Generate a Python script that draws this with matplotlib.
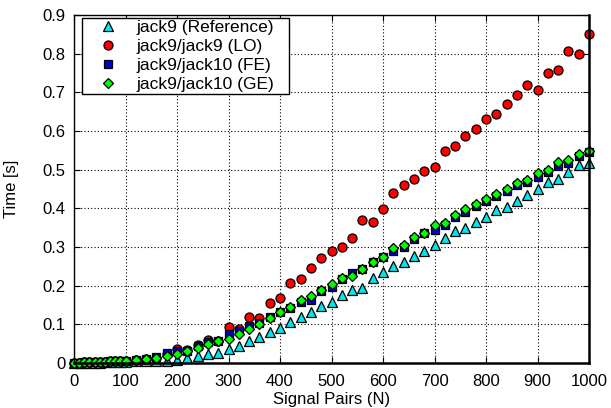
import matplotlib
matplotlib.use("Agg")
import matplotlib.pyplot as plt

plt.rcParams['font.family'] = ['Liberation Sans', 'DejaVu Sans']

signal_pairs = [0, 10, 20, 30, 40, 50, 60, 70, 80, 90, 100,
                120, 140, 160, 180, 200, 220, 240, 260, 280, 300,
                320, 340, 360, 380, 400, 420, 440, 460, 480, 500,
                520, 540, 560, 580, 600, 620, 640, 660, 680, 700,
                720, 740, 760, 780, 800, 820, 840, 860, 880, 900,
                920, 940, 960, 980, 1000]

time_reference = [0.000, 0.000, 0.001, 0.001, 0.001, 0.001, 0.002, 0.002, 0.002, 0.003, 0.003,
                  0.004, 0.004, 0.005, 0.006, 0.008, 0.013, 0.019, 0.024, 0.027, 0.035,
                  0.045, 0.058, 0.067, 0.079, 0.091, 0.105, 0.120, 0.131, 0.148, 0.158,
                  0.175, 0.189, 0.195, 0.219, 0.236, 0.251, 0.260, 0.277, 0.289, 0.304,
                  0.322, 0.342, 0.349, 0.364, 0.378, 0.395, 0.404, 0.418, 0.434, 0.451,
                  0.467, 0.476, 0.494, 0.512, 0.516]

time_lo = [0.001, 0.001, 0.002, 0.002, 0.002, 0.003, 0.003, 0.004, 0.004, 0.005, 0.006,
           0.008, 0.010, 0.014, 0.022, 0.035, 0.033, 0.046, 0.059, 0.058, 0.094,
           0.087, 0.120, 0.117, 0.156, 0.168, 0.207, 0.217, 0.245, 0.271, 0.290,
           0.301, 0.322, 0.371, 0.364, 0.398, 0.440, 0.461, 0.477, 0.497, 0.507,
           0.549, 0.561, 0.587, 0.605, 0.632, 0.644, 0.671, 0.694, 0.718, 0.707,
           0.749, 0.757, 0.807, 0.800, 0.850]

time_fe = [0.001, 0.001, 0.002, 0.002, 0.002, 0.003, 0.003, 0.004, 0.004, 0.005, 0.006,
           0.008, 0.011, 0.015, 0.026, 0.030, 0.032, 0.043, 0.055, 0.057, 0.075,
           0.084, 0.095, 0.103, 0.119, 0.133, 0.141, 0.157, 0.164, 0.187, 0.197,
           0.217, 0.234, 0.242, 0.261, 0.273, 0.289, 0.301, 0.320, 0.335, 0.345,
           0.358, 0.377, 0.391, 0.405, 0.420, 0.432, 0.446, 0.460, 0.468, 0.482,
           0.494, 0.509, 0.518, 0.535, 0.546]

time_ge = [0.001, 0.001, 0.002, 0.002, 0.002, 0.003, 0.003, 0.004, 0.004, 0.005, 0.006,
           0.008, 0.010, 0.013, 0.018, 0.023, 0.031, 0.039, 0.050, 0.057, 0.061,
           0.076, 0.087, 0.102, 0.117, 0.131, 0.144, 0.163, 0.173, 0.188, 0.205,
           0.219, 0.225, 0.243, 0.262, 0.274, 0.297, 0.306, 0.326, 0.337, 0.356,
           0.362, 0.384, 0.397, 0.410, 0.425, 0.437, 0.450, 0.465, 0.473, 0.491,
           0.499, 0.520, 0.525, 0.540, 0.549]

labels = ['jack9 (Reference)', 'jack9/jack9 (LO)', 'jack9/jack10 (FE)', 'jack9/jack10 (GE)']
x_ticks = [0, 100, 200, 300, 400, 500, 600, 700, 800, 900, 1000]
y_ticks = [0, 0.1, 0.2, 0.3, 0.4, 0.5, 0.6, 0.7, 0.8, 0.9]
y_tick_labels = ['0', '0.1', '0.2', '0.3', '0.4', '0.5', '0.6', '0.7', '0.8', '0.9']

fig = plt.figure(figsize=(6.11, 4.08), dpi=100)
ax = fig.add_axes([74/611, 45/408, (589-74)/611, (363-15)/408])

series = [
    (time_reference, '^', '#00e5ee', 7.0),
    (time_lo, 'o', '#ff0000', 6.5),
    (time_fe, 's', '#0000cc', 6.0),
    (time_ge, 'D', '#00ff00', 5.5),
]
for (ys, m, c, ms), lab in zip(series, labels):
    ax.plot(signal_pairs, ys, linestyle='none', marker=m, markersize=ms,
            markerfacecolor=c, markeredgecolor='black', markeredgewidth=0.9,
            label=lab, clip_on=False)

ax.set_xlim(0, 1000)
ax.set_ylim(0, 0.9)
ax.set_xticks(x_ticks)
ax.set_yticks(y_ticks)
ax.set_yticklabels(y_tick_labels)
ax.tick_params(direction='in', top=True, right=True, labelsize=12, length=4)
ax.tick_params(axis='x', pad=8)
ax.tick_params(axis='y', pad=6)
ax.grid(True, linestyle=(0, (1, 2)), color='black', linewidth=0.8)
for side in ['left', 'top']:
    ax.spines[side].set_linewidth(1.0)
for side in ['right', 'bottom']:
    ax.spines[side].set_linewidth(1.8)

ax.set_xlabel('Signal Pairs (N)', fontsize=12, labelpad=2)
ax.set_ylabel('Time [s]', fontsize=12, labelpad=17)

leg = ax.legend(loc='upper left', bbox_to_anchor=(8/515, 1 - 3/348, 207/515, 0.0),
                mode='expand', fontsize=12.5,
                frameon=True, fancybox=False, borderpad=0.1, labelspacing=0.22,
                handlelength=2.8, handletextpad=0.25, borderaxespad=0, numpoints=1)
leg.get_frame().set_edgecolor('black')
leg.get_frame().set_linewidth(1.0)
leg.get_frame().set_alpha(1)

fig.savefig('out.png', dpi=100)
